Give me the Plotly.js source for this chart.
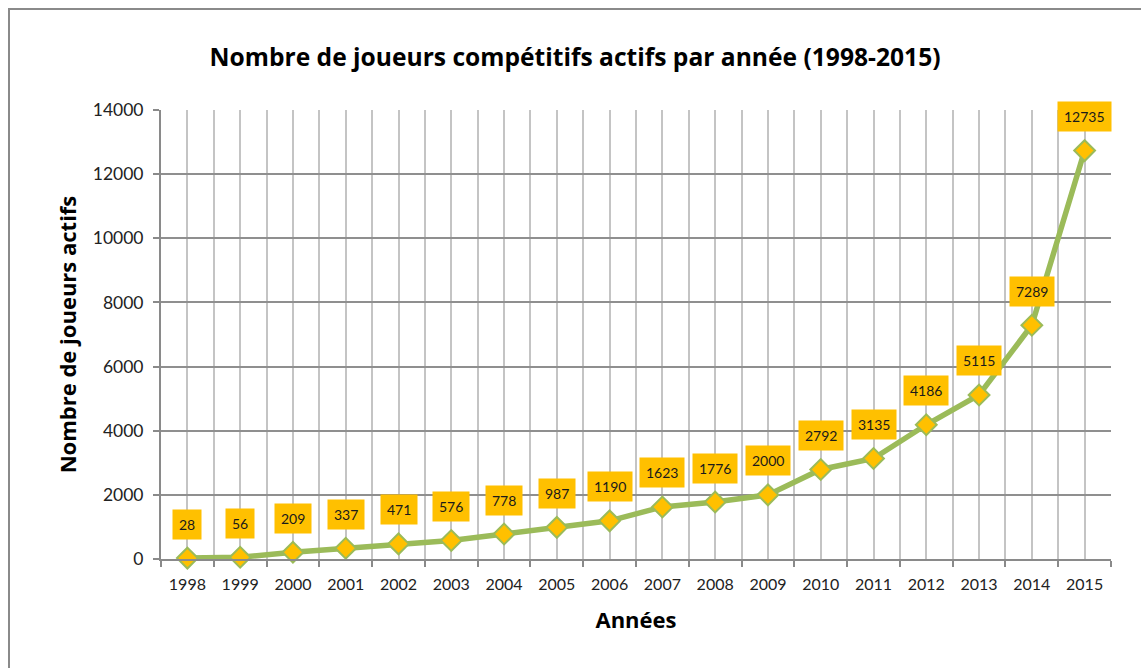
<!DOCTYPE html>
<html><head><meta charset="utf-8">
<script src="https://cdn.plot.ly/plotly-3.0.1.min.js"></script>
<style>
html,body{margin:0;padding:0;background:#fff;overflow:hidden}
#frame{position:absolute;left:8px;top:8px;width:1200px;height:700px;border:2px solid #8a8a8a;box-sizing:border-box;pointer-events:none;z-index:5}
#chart{position:absolute;left:0;top:0;width:1141px;height:668px}
</style></head>
<body>
<div id="chart"></div>
<div id="frame"></div>
<script>
const years = [1998,1999,2000,2001,2002,2003,2004,2005,2006,2007,2008,2009,2010,2011,2012,2013,2014,2015];
const players = [28,56,209,337,471,576,778,987,1190,1623,1776,2000,2792,3135,4186,5115,7289,12735];
const chartTitle = 'Nombre de joueurs compétitifs actifs par année (1998-2015)';
const xTitle = 'Années';
const yTitle = 'Nombre de joueurs actifs';

const FONT = 'Lato, "Open Sans", sans-serif';
const TFONT = '"Open Sans", Lato, sans-serif';

const trace = {
  x: years, y: players, type: 'scatter', mode: 'lines+markers',
  line: {color: '#9BBB59', width: 5.5},
  marker: {symbol: 'diamond', size: 16, color: '#FFC000', line: {color: '#9BBB59', width: 2}},
  hoverinfo: 'skip', showlegend: false, cliponaxis: false
};

const annotations = years.map((yr, i) => ({
  x: yr, y: players[i], xref: 'x', yref: 'y',
  text: String(players[i]), showarrow: false,
  yshift: 34, bgcolor: '#FFC000', borderpad: 6,
  font: {family: FONT, size: 14, color: '#1a1a1a'}
}));

const layout = {
  width: 1141, height: 668,
  margin: {l: 161, r: 30, t: 110, b: 109},
  paper_bgcolor: '#ffffff', plot_bgcolor: '#ffffff',
  font: {family: FONT, color: '#222'},
  title: {text: '<b>' + chartTitle + '</b>', x: 0.504, xanchor: 'center', y: 1 - 57/668, yanchor: 'middle', yref: 'container',
          font: {family: TFONT, size: 24.6, color: '#000'}},
  xaxis: {
    range: [1997.5, 2015.5], tickmode: 'linear', tick0: 1998, dtick: 1, tickformat: 'd',
    ticks: '', showgrid: true, gridcolor: '#c4c4c4', gridwidth: 2,
    showline: true, linecolor: '#8a8a8a', linewidth: 2,
    zeroline: false,
    minor: {tick0: 1997.5, dtick: 1, ticks: 'outside', ticklen: 6, tickcolor: '#8a8a8a', tickwidth: 2, showgrid: true, gridcolor: '#c4c4c4', gridwidth: 2},
    tickfont: {family: FONT, size: 16, color: '#222'},
    ticklabelstandoff: 10,
    title: {text: '<b>' + xTitle + '</b>', font: {family: TFONT, size: 22, color: '#000'}, standoff: 20},
    fixedrange: true
  },
  yaxis: {
    range: [0, 14000], tickmode: 'linear', tick0: 0, dtick: 2000, tickformat: 'd',
    ticks: 'outside', ticklen: 6, tickcolor: '#8a8a8a', tickwidth: 2,
    showgrid: true, gridcolor: '#8f8f8f', gridwidth: 2,
    showline: true, linecolor: '#8a8a8a', linewidth: 2,
    zeroline: false,
    tickfont: {family: FONT, size: 17.5, color: '#222'},
    ticklabelstandoff: 6,
    title: {text: '<b>' + yTitle + '</b>', font: {family: TFONT, size: 22, color: '#000'}, standoff: 10},
    fixedrange: true
  },
  annotations: annotations
};

Plotly.newPlot('chart', [trace], layout, {displayModeBar: false, staticPlot: true});
</script>
</body></html>
